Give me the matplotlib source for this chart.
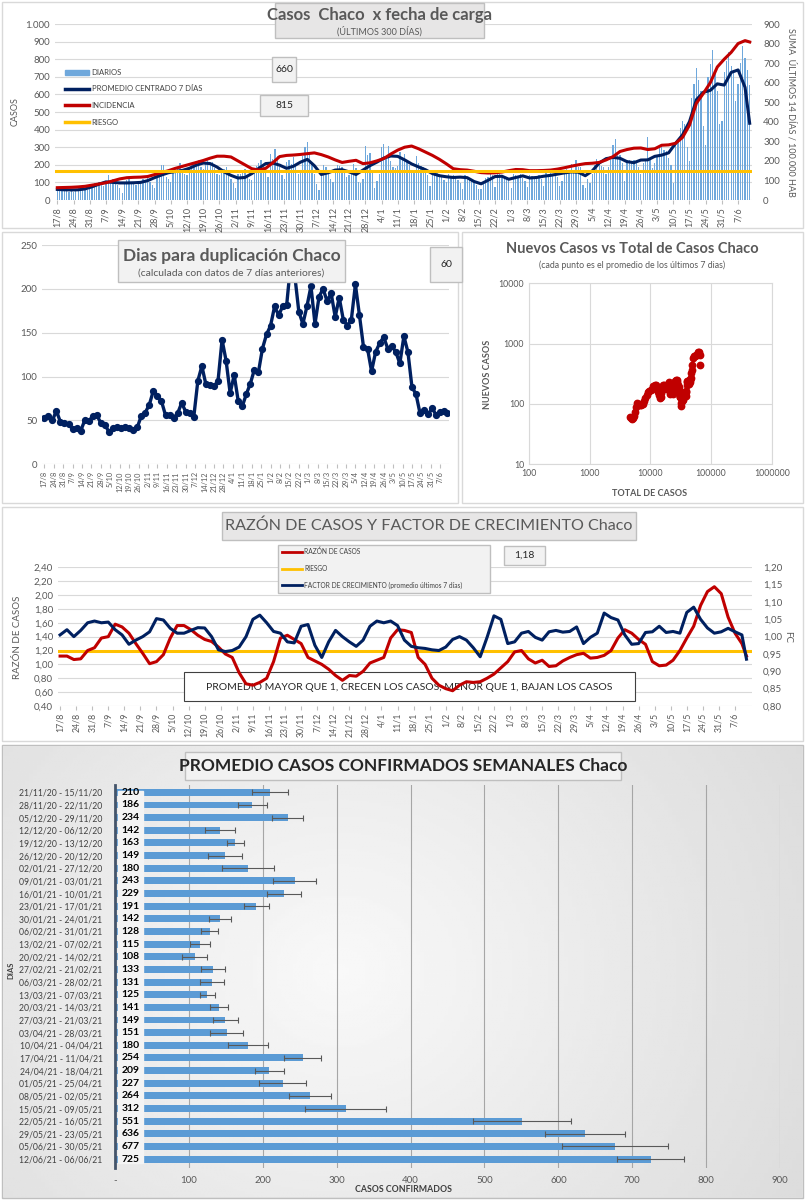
import numpy as np
import pandas as pd
import matplotlib
matplotlib.use("Agg")
import matplotlib.pyplot as plt
from matplotlib.patches import Rectangle, Patch
from matplotlib.lines import Line2D
from matplotlib.ticker import FuncFormatter

W, H = 805, 1200
plt.rcParams["font.family"] = ["Lato", "DejaVu Sans"]

GRIS = "#595959"
AZUL = "#002060"
ROJO = "#c00000"
NARANJA = "#ffc000"
CELESTE = "#6fa8dc"

# ---------------- datos ----------------
FECHA_INICIO = "2020-08-17"

# casos diarios, una fila por semana (lunes a domingo)
DIARIOS = [
    50, 62, 58, 72, 55, 48, 60,
    45, 65, 70, 58, 78, 62, 55,
    70, 85, 95, 88, 105, 92, 80,
    95, 140, 110, 120, 98, 85, 70,
    40, 105, 115, 125, 95, 100, 88,
    92, 98, 118, 110, 130, 105, 85,
    70, 150, 165, 200, 200, 130, 120,
    105, 160, 170, 185, 210, 175, 150,
    140, 180, 205, 210, 195, 230, 190,
    175, 210, 230, 200, 215, 180, 150,
    140, 160, 175, 185, 150, 120, 95,
    70, 145, 150, 160, 175, 140, 120,
    115, 165, 195, 210, 225, 190, 155,
    130, 260, 235, 290, 250, 185, 140,
    120, 215, 230, 205, 245, 200, 150,
    165, 250, 300, 331, 260, 210, 150,
    90, 55, 160, 200, 185, 150, 120,
    105, 175, 200, 195, 190, 160, 130,
    140, 165, 205, 180, 100, 95, 120,
    305, 255, 265, 160, 70, 110, 150,
    300, 320, 240, 305, 220, 190, 180,
    195, 275, 240, 260, 230, 200, 170,
    160, 250, 210, 195, 185, 170, 140,
    80, 150, 170, 160, 145, 130, 115,
    100, 150, 135, 140, 130, 115, 95,
    60, 140, 130, 125, 120, 110, 85,
    60, 65, 105, 125, 130, 150, 140,
    75, 165, 150, 140, 130, 125, 115,
    70, 145, 140, 135, 150, 125, 110,
    75, 140, 135, 130, 125, 140, 120,
    80, 165, 150, 170, 145, 140, 130,
    80, 110, 160, 175, 165, 205, 155,
    230, 190, 190, 85, 70, 120, 95,
    150, 200, 235, 220, 195, 185, 150,
    190, 225, 310, 345, 270, 255, 210,
    110, 225, 230, 215, 225, 220, 190,
    150, 210, 230, 360, 230, 180, 210,
    245, 295, 300, 285, 280, 240, 200,
    95, 310, 340, 410, 450, 430, 300,
    220, 580, 660, 750, 680, 620, 420,
    310, 700, 770, 855, 720, 620, 430,
    450, 730, 790, 840, 760, 720, 560,
    660, 780, 875, 805, 740, 655,
]
TOTAL_INICIAL = 4500

# series leidas cada 3 dias (mas el ultimo dia)
DIAS_MUESTRA = np.append(np.arange(0, 298, 3), 299)

PROMEDIO_7D = [
    60, 58, 57, 58, 63, 75, 90, 103, 100, 97,
    97, 98, 100, 110, 127, 142, 155, 162, 168, 180,
    198, 210, 207, 187, 160, 140, 125, 128, 150, 180,
    207, 210, 198, 180, 192, 215, 231, 195, 145, 155,
    170, 172, 160, 145, 170, 195, 215, 238, 250, 248,
    228, 205, 188, 172, 150, 138, 132, 128, 130, 127,
    105, 92, 112, 133, 135, 118, 128, 137, 125, 128,
    135, 140, 147, 154, 160, 158, 138, 165, 210, 235,
    242, 237, 218, 212, 227, 228, 248, 255, 268, 322,
    370, 445, 570, 612, 623, 660, 653, 725, 739, 640,
    436,
]

INCIDENCIA = [
    63, 64, 65, 67, 70, 76, 82, 88, 98, 108,
    114, 116, 117, 120, 130, 140, 150, 162, 172, 182,
    192, 202, 214, 224, 224, 220, 200, 180, 160, 153,
    162, 190, 222, 228, 230, 233, 237, 241, 232, 220,
    205, 192, 198, 203, 186, 190, 200, 212, 235, 255,
    270, 276, 262, 245, 228, 208, 185, 160, 155, 153,
    147, 140, 138, 139, 143, 150, 156, 155, 150, 150,
    151, 153, 158, 165, 173, 180, 186, 188, 192, 205,
    222, 248, 258, 265, 266, 258, 262, 280, 282, 290,
    320, 383, 495, 545, 600, 680, 720, 755, 800, 815,
    808,
]
RIESGO_INCIDENCIA = 150

DIAS_DUPLICACION = [
    53, 55, 50, 61, 48, 47, 46, 40, 41, 38,
    50, 49, 55, 56, 47, 45, 37, 41, 42, 41,
    43, 41, 39, 42, 55, 59, 68, 84, 78, 72,
    56, 56, 53, 58, 70, 60, 58, 54, 95, 112,
    91, 90, 89, 95, 142, 118, 81, 102, 72, 66,
    80, 92, 108, 105, 132, 148, 158, 180, 170, 180,
    182, 230, 215, 174, 160, 180, 203, 160, 191, 200,
    186, 195, 168, 190, 165, 158, 165, 205, 170, 134,
    132, 106, 128, 138, 145, 132, 135, 128, 115, 146,
    128, 88, 80, 58, 62, 57, 64, 56, 60, 61,
    59,
]

RAZON_CASOS = [
    1.12, 1.12, 1.07, 1.08, 1.20, 1.24, 1.38, 1.40, 1.58, 1.54,
    1.45, 1.30, 1.16, 1.01, 1.04, 1.14, 1.38, 1.56, 1.56, 1.50,
    1.42, 1.36, 1.33, 1.25, 1.15, 1.10, 0.88, 0.72, 0.70, 0.74,
    0.80, 1.04, 1.38, 1.42, 1.36, 1.30, 1.10, 1.05, 1.00, 0.93,
    0.84, 0.77, 0.84, 0.83, 0.90, 1.02, 1.06, 1.10, 1.38, 1.50,
    1.49, 1.46, 1.10, 1.00, 0.80, 0.70, 0.65, 0.62, 0.70, 0.75,
    0.74, 0.75, 0.80, 0.86, 0.95, 1.04, 1.18, 1.20, 1.08, 1.02,
    1.06, 0.97, 0.98, 1.05, 1.10, 1.14, 1.16, 1.09, 1.10, 1.13,
    1.20, 1.38, 1.50, 1.45, 1.36, 1.29, 1.04, 0.98, 0.99, 1.06,
    1.20, 1.38, 1.55, 1.85, 2.05, 2.12, 2.02, 1.68, 1.45, 1.30,
    1.12,
]
RIESGO_RAZON = 1.20

FACTOR_CRECIMIENTO = [
    1.005, 1.020, 1.000, 1.018, 1.040, 1.045, 1.040, 1.042, 1.020, 1.005,
    0.978, 0.990, 1.000, 1.014, 1.052, 1.048, 1.024, 1.010, 1.010, 1.018,
    1.026, 1.025, 1.000, 0.962, 0.957, 0.960, 0.970, 1.000, 1.050, 1.062,
    1.040, 1.015, 1.010, 0.985, 0.982, 1.030, 1.035, 0.975, 0.940, 0.985,
    1.018, 1.000, 0.985, 0.972, 0.990, 1.030, 1.045, 1.040, 1.045, 1.032,
    0.990, 0.972, 0.968, 0.966, 0.962, 0.960, 0.970, 0.992, 1.000, 0.990,
    0.968, 0.942, 0.998, 1.060, 1.050, 0.980, 0.985, 1.010, 1.015, 0.998,
    0.990, 1.014, 1.018, 1.013, 1.015, 1.028, 0.980, 0.998, 1.010, 1.068,
    1.055, 1.048, 1.005, 0.978, 0.980, 1.012, 1.014, 1.030, 1.012, 1.015,
    1.010, 1.070, 1.085, 1.050, 1.025, 1.010, 1.014, 1.024, 1.014, 1.005,
    0.935,
]

SEMANAS = [
    "21/11/20 - 15/11/20", "28/11/20 - 22/11/20", "05/12/20 - 29/11/20",
    "12/12/20 - 06/12/20", "19/12/20 - 13/12/20", "26/12/20 - 20/12/20",
    "02/01/21 - 27/12/20", "09/01/21 - 03/01/21", "16/01/21 - 10/01/21",
    "23/01/21 - 17/01/21", "30/01/21 - 24/01/21", "06/02/21 - 31/01/21",
    "13/02/21 - 07/02/21", "20/02/21 - 14/02/21", "27/02/21 - 21/02/21",
    "06/03/21 - 28/02/21", "13/03/21 - 07/03/21", "20/03/21 - 14/03/21",
    "27/03/21 - 21/03/21", "03/04/21 - 28/03/21", "10/04/21 - 04/04/21",
    "17/04/21 - 11/04/21", "24/04/21 - 18/04/21", "01/05/21 - 25/04/21",
    "08/05/21 - 02/05/21", "15/05/21 - 09/05/21", "22/05/21 - 16/05/21",
    "29/05/21 - 23/05/21", "05/06/21 - 30/05/21", "12/06/21 - 06/06/21",
]
PROMEDIO_SEMANAL = [210, 186, 234, 142, 163, 149, 180, 243, 229, 191,
                    142, 128, 115, 108, 133, 131, 125, 141, 149, 151,
                    180, 254, 209, 227, 264, 312, 551, 636, 677, 725]
ERROR_SEMANAL = [24, 20, 21, 20, 12, 23, 35, 29, 23, 17,
                 15, 11, 14, 17, 16, 16, 10, 12, 17, 22,
                 27, 25, 20, 32, 28, 55, 66, 54, 72, 45]


# ---------------- helpers ----------------
def caja(x0, y0, x1, y1):
    return [x0 / W, 1 - y1 / H, (x1 - x0) / W, (y1 - y0) / H]


def rect(fig, x0, y0, x1, y1, fc="white", ec="#d9d9d9", lw=1.0, z=-1):
    r = Rectangle((x0 / W, 1 - y1 / H), (x1 - x0) / W, (y1 - y0) / H,
                  transform=fig.transFigure, facecolor=fc, edgecolor=ec,
                  lw=lw, zorder=z)
    fig.add_artist(r)
    return r


def texto(fig, x, y, s, **kw):
    kw.setdefault("ha", "center")
    kw.setdefault("va", "center")
    kw.setdefault("color", GRIS)
    return fig.text(x / W, 1 - y / H, s, **kw)


def limpiar(ax):
    for s in ax.spines.values():
        s.set_visible(False)


def eje_fechas(ax, size):
    ax.set_xticks(TICKS)
    ax.set_xticklabels(ETIQUETAS, rotation=90, fontsize=size, color=GRIS)
    ax.tick_params(axis="x", length=3, color="#bfbfbf", pad=2)


dias = np.arange(len(DIARIOS))
fechas = pd.date_range(FECHA_INICIO, periods=len(DIARIOS))
TICKS = np.arange(0, len(DIARIOS), 7)
ETIQUETAS = [f"{fechas[i].day}/{fechas[i].month}" for i in TICKS]
miles = FuncFormatter(lambda v, _: f"{int(v):,}".replace(",", "."))
coma = FuncFormatter(lambda v, _: f"{v:.2f}".replace(".", ","))

fig = plt.figure(figsize=(W / 100, H / 100), dpi=100)
fig.patch.set_facecolor("white")

# ---------------- panel 1: casos diarios ----------------
rect(fig, 2, 2, 803, 228)
ax1 = fig.add_axes(caja(55, 24, 752, 200))
ax1.bar(dias, DIARIOS, width=0.55, color=CELESTE, zorder=2)
ax1.plot(DIAS_MUESTRA, PROMEDIO_7D, color=AZUL, lw=2.2, zorder=4)
ax1.set_xlim(-1, 300)
ax1.set_ylim(0, 1000)
ax1.set_yticks(np.arange(0, 1001, 100))
ax1.yaxis.set_major_formatter(miles)
ax1.grid(axis="y", color="#d9d9d9", lw=0.8)
ax1.set_axisbelow(True)
ax1.tick_params(axis="y", length=0, labelsize=7, labelcolor=GRIS)
eje_fechas(ax1, 6.5)
limpiar(ax1)

ax1r = ax1.twinx()
ax1r.plot(DIAS_MUESTRA, INCIDENCIA, color=ROJO, lw=2.2)
ax1r.axhline(RIESGO_INCIDENCIA, color=NARANJA, lw=2.2)
ax1r.set_ylim(0, 900)
ax1r.set_yticks(np.arange(0, 901, 100))
ax1r.tick_params(axis="y", length=0, labelsize=7, labelcolor=GRIS, pad=8)
limpiar(ax1r)

ax1.legend([Patch(color=CELESTE), Line2D([], [], color=AZUL, lw=2.5),
            Line2D([], [], color=ROJO, lw=2.5), Line2D([], [], color=NARANJA, lw=2.5)],
           ["DIARIOS", "PROMEDIO CENTRADO 7 DÍAS", "INCIDENCIA", "RIESGO"],
           loc="upper left", bbox_to_anchor=(58 / W, 1 - 62 / H),
           bbox_transform=fig.transFigure, frameon=False, fontsize=5.5,
           labelspacing=1.25, handlelength=3.2, handletextpad=0.3,
           labelcolor="#404040")

texto(fig, 15, 112, "CASOS", rotation=90, fontsize=6.5)
texto(fig, 791, 112, "SUMA  ÚLTIMOS 14 DÍAS / 100.000 HAB", rotation=-90, fontsize=6.5)
rect(fig, 275, 3, 484, 38, fc="#e7e6e6", ec="#bfbfbf", z=5)
texto(fig, 379.5, 15, "Casos  Chaco  x fecha de carga", fontsize=12, fontweight="bold", zorder=6)
texto(fig, 379.5, 31, "(ÚLTIMOS 300 DÍAS)", fontsize=6.5, zorder=6)
rect(fig, 272, 57, 296, 82, fc="#f2f2f2", ec="#bfbfbf", z=5)
texto(fig, 284, 69.5, "660", fontsize=7.5, color="#262626", zorder=6)
rect(fig, 260, 95, 308, 116, fc="#f2f2f2", ec="#bfbfbf", z=5)
texto(fig, 284, 105.5, "815", fontsize=7.5, color="#262626", zorder=6)

# ---------------- panel 2: dias para duplicacion ----------------
rect(fig, 2, 232, 458, 503)
ax2 = fig.add_axes(caja(42, 245, 449, 464.3))
ax2.plot(DIAS_MUESTRA, DIAS_DUPLICACION, color=AZUL, lw=2.4, marker="o", ms=4.2)
ax2.set_xlim(-1.7, 300.5)
ax2.set_ylim(0, 250)
ax2.set_yticks(np.arange(0, 251, 50))
ax2.grid(axis="y", color="#d9d9d9", lw=0.8)
ax2.set_axisbelow(True)
ax2.tick_params(axis="y", length=0, labelsize=7, labelcolor=GRIS)
eje_fechas(ax2, 5.3)
limpiar(ax2)
rect(fig, 118, 240, 345, 282, fc="#f2f2f2", ec="#bfbfbf", z=5)
texto(fig, 231.5, 256, "Dias para duplicación Chaco", fontsize=12.5, fontweight="bold", zorder=6)
texto(fig, 231.5, 273, "(calculada con datos de 7 días anteriores)", fontsize=7.5, zorder=6)
rect(fig, 430, 247, 462, 282, fc="#f2f2f2", ec="#bfbfbf", z=5)
texto(fig, 446, 264.5, "60", fontsize=7.5, color="#262626", zorder=6)

# ---------------- panel 3: nuevos vs total ----------------
rect(fig, 462, 232, 803, 503)
total = TOTAL_INICIAL + np.cumsum(DIARIOS)
ax3 = fig.add_axes(caja(529, 283.3, 771.7, 464.3))
ax3.plot(total[DIAS_MUESTRA], PROMEDIO_7D, "o", color=ROJO, ms=4.6)
ax3.set_xscale("log")
ax3.set_yscale("log")
ax3.set_xlim(100, 1e6)
ax3.set_ylim(10, 1e4)
ax3.set_xticks([100, 1000, 10000, 100000, 1000000])
ax3.set_yticks([10, 100, 1000, 10000])
ax3.xaxis.set_major_formatter(FuncFormatter(lambda v, _: f"{int(v)}"))
ax3.yaxis.set_major_formatter(FuncFormatter(lambda v, _: f"{int(v)}"))
ax3.minorticks_off()
ax3.grid(color="#d9d9d9", lw=0.8)
ax3.set_axisbelow(True)
ax3.tick_params(length=0, labelsize=6.3, labelcolor=GRIS)
for s in ax3.spines.values():
    s.set_color("#d9d9d9")
texto(fig, 632, 249, "Nuevos Casos vs Total de Casos Chaco", fontsize=10.5, fontweight="bold")
texto(fig, 632, 265, "(cada punto es el promedio de los últimos 7 dias)", fontsize=6.3)
texto(fig, 487, 374, "NUEVOS CASOS", rotation=90, fontsize=6.5, fontweight="bold")
texto(fig, 650, 493, "TOTAL DE CASOS", fontsize=6.5, fontweight="bold")

# ---------------- panel 4: razon y factor de crecimiento ----------------
rect(fig, 2, 507, 803, 741)
ax4 = fig.add_axes(caja(58, 567.3, 752, 706))
ax4.plot(DIAS_MUESTRA, RAZON_CASOS, color=ROJO, lw=2.2, zorder=3)
ax4.axhline(RIESGO_RAZON, color=NARANJA, lw=2.2, zorder=2.8)
ax4.set_xlim(-0.9, 301.4)
ax4.set_ylim(0.40, 2.40)
ax4.set_yticks(np.arange(0.40, 2.41, 0.20))
ax4.yaxis.set_major_formatter(coma)
ax4.grid(axis="y", color="#d9d9d9", lw=0.8)
ax4.set_axisbelow(True)
ax4.tick_params(axis="y", length=0, labelsize=7, labelcolor=GRIS)
eje_fechas(ax4, 6.3)
limpiar(ax4)
ax4.add_patch(Rectangle((184 / W, 1 - 701 / H), 451 / W, 29 / H, transform=fig.transFigure,
                        facecolor="white", edgecolor="#404040", lw=0.8, zorder=1.5))
ax4.text(409.5 / W, 1 - 687 / H, "PROMEDIO MAYOR QUE 1, CRECEN LOS CASOS, MENOR QUE 1, BAJAN LOS CASOS",
         transform=fig.transFigure, ha="center", va="center", fontsize=7.5,
         color="#262626", zorder=2)

ax4r = ax4.twinx()
ax4r.plot(DIAS_MUESTRA, FACTOR_CRECIMIENTO, color=AZUL, lw=2.2)
ax4r.set_ylim(0.80, 1.20)
ax4r.set_yticks(np.arange(0.80, 1.201, 0.05))
ax4r.yaxis.set_major_formatter(coma)
ax4r.tick_params(axis="y", length=0, labelsize=7, labelcolor=GRIS, pad=8)
limpiar(ax4r)

rect(fig, 222, 512, 636, 540, fc="#e7e6e6", ec="#bfbfbf", z=5)
texto(fig, 429, 526, "RAZÓN DE CASOS Y FACTOR DE CRECIMIENTO Chaco", fontsize=11.6, zorder=6)
rect(fig, 278, 545, 490, 593, fc="#f2f2f2", ec="#bfbfbf", z=5)
for yy, col, lab in [(551.5, ROJO, "RAZÓN DE CASOS"), (568.5, NARANJA, "RIESGO"),
                     (585, AZUL, "FACTOR DE CRECIMIENTO (promedio últimos 7 días)")]:
    fig.add_artist(Line2D([282 / W, 302 / W], [1 - yy / H, 1 - yy / H], color=col, lw=2,
                          transform=fig.transFigure, zorder=6))
    texto(fig, 304, yy, lab, ha="left", fontsize=4.8, color="#404040", zorder=6)
rect(fig, 504, 546, 545, 565, fc="#f2f2f2", ec="#bfbfbf", z=5)
texto(fig, 524.5, 555.5, "1,18", fontsize=7.5, color="#262626", zorder=6)
texto(fig, 17, 637, "RAZÓN DE CASOS", rotation=90, fontsize=7)
texto(fig, 788, 637, "FC", rotation=-90, fontsize=7)

# ---------------- panel 5: promedio semanal ----------------
rect(fig, 2, 745, 803, 1198, fc="#e6e6e6", ec="#bfbfbf")
axg = fig.add_axes(caja(3, 746, 802, 1197), zorder=-0.5)
gx, gy = np.meshgrid(np.linspace(0, 1, 200), np.linspace(0, 1, 200))
fondo = 0.975 - 0.17 * np.sqrt((gx - 0.42) ** 2 + 0.4 * (gy - 0.5) ** 2)
axg.imshow(fondo, cmap="gray", vmin=0, vmax=1, aspect="auto", extent=(0, 1, 0, 1))
axg.axis("off")

ypos = np.arange(len(SEMANAS))
ax5 = fig.add_axes(caja(115, 785, 780, 1168))
ax5.patch.set_visible(False)
ax5.barh(ypos, PROMEDIO_SEMANAL, height=0.55, color="#5b9bd5", zorder=2)
ax5.errorbar(PROMEDIO_SEMANAL, ypos, xerr=ERROR_SEMANAL, fmt="none", ecolor="#595959",
             elinewidth=0.8, capsize=2.2, capthick=0.8, zorder=3)
ax5.axvspan(4, 38, ymin=0.012, ymax=0.985, color="#f4f4f4", zorder=4)
for y, v in zip(ypos, PROMEDIO_SEMANAL):
    ax5.text(21, y, f"{v}", ha="center", va="center", fontsize=7.5,
             fontweight="bold", color="#000000", zorder=5)
ax5.set_xlim(0, 900)
ax5.set_ylim(29.7, -0.58)
ax5.set_yticks(ypos)
ax5.set_yticklabels(SEMANAS, fontsize=6.2, color="#404040")
ax5.set_xticks(np.arange(0, 901, 100))
ax5.set_xticklabels(["-"] + [str(v) for v in range(100, 901, 100)], fontsize=7, color=GRIS)
ax5.grid(axis="x", color="#a6a6a6", lw=0.8)
ax5.set_axisbelow(True)
ax5.tick_params(length=0, pad=6)
ax5.tick_params(axis="y", pad=9)
limpiar(ax5)
ax5.spines["left"].set_visible(True)
ax5.spines["left"].set_color("#44546a")
ax5.spines["left"].set_linewidth(2)

rect(fig, 185, 752, 621, 780, fc="#f2f2f2", ec="#bfbfbf", z=5)
texto(fig, 403, 766, "PROMEDIO CASOS CONFIRMADOS SEMANALES Chaco", fontsize=12.5,
      fontweight="bold", color="#262626", zorder=6)
texto(fig, 11, 970, "DIAS", rotation=90, fontsize=5.5, fontweight="bold", color="#404040")
texto(fig, 403, 1190, "CASOS CONFIRMADOS", fontsize=6.3, fontweight="bold", color="#404040")

fig.savefig("out.png", dpi=100, facecolor="white")
